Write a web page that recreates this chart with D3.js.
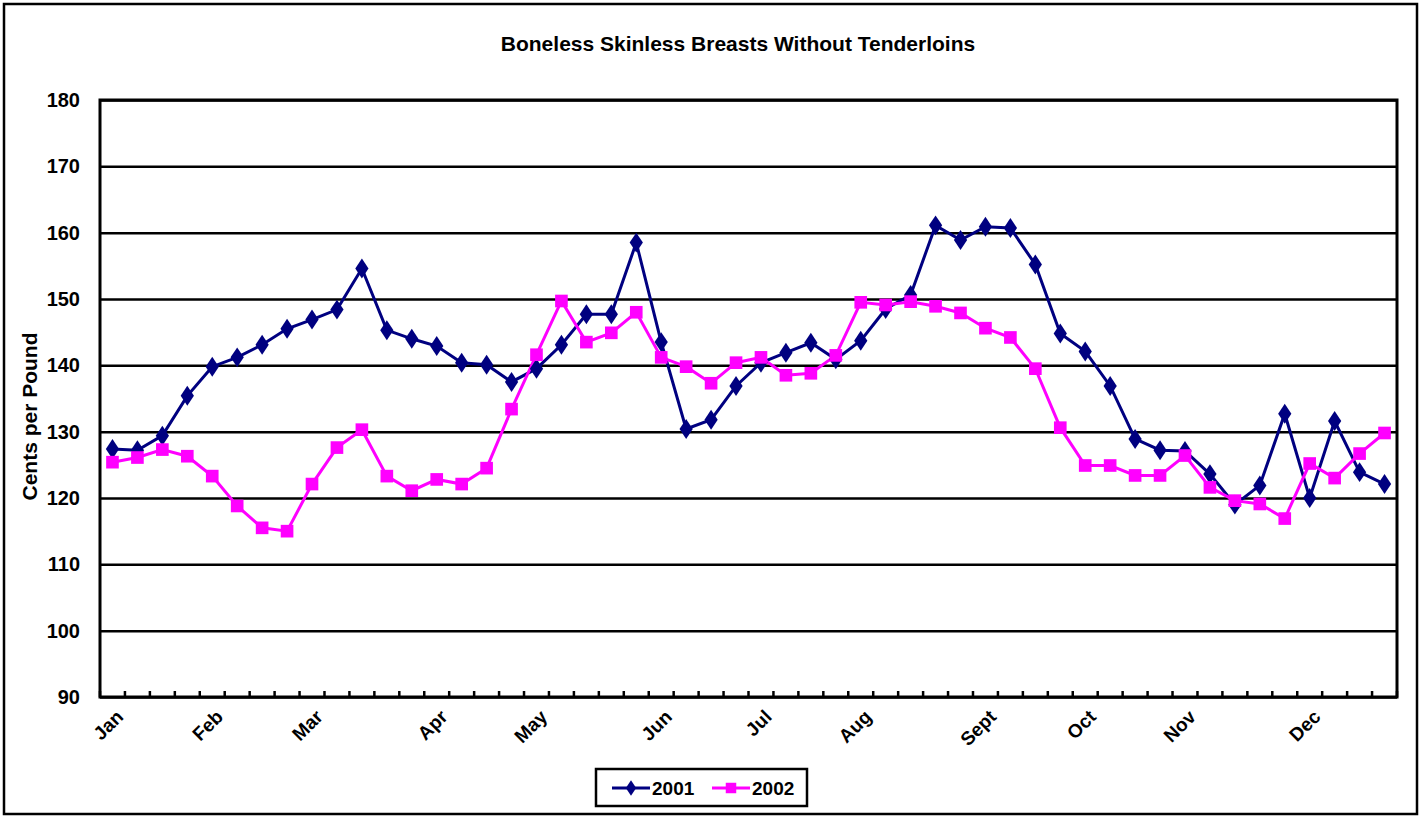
<!DOCTYPE html>
<html>
<head>
<meta charset="utf-8">
<script src="https://cdn.jsdelivr.net/npm/d3@7"></script>
<style>
  body { margin: 0; background: #fff; }
  svg { font-family: "Liberation Sans", Arial, sans-serif; font-weight: bold; }
</style>
</head>
<body>
<svg id="chart" width="1425" height="818"></svg>
<script>
// weekly prices, cents per pound (52 weeks)
const series2001 = [
  127.4, 127.2, 129.4, 135.4, 139.8, 141.2, 143.1, 145.5, 146.9, 148.4,
  154.6, 145.3, 144.0, 142.9, 140.4, 140.1, 137.5, 139.5, 143.1, 147.7,
  147.7, 158.5, 143.5, 130.4, 131.8, 136.9, 140.4, 141.9, 143.4, 140.9,
  143.7, 148.5, 150.6, 161.1, 158.9, 160.9, 160.7, 155.2, 144.8, 142.1,
  136.9, 128.9, 127.2, 127.1, 123.6, 119.0, 121.9, 132.7, 120.0, 131.6,
  123.9, 122.1
];
const series2002 = [
  125.4, 126.1, 127.3, 126.3, 123.3, 118.8, 115.5, 115.0, 122.1, 127.6,
  130.3, 123.3, 121.1, 122.8, 122.1, 124.5, 133.4, 141.6, 149.7, 143.5,
  144.9, 148.0, 141.2, 139.8, 137.3, 140.4, 141.2, 138.5, 138.8, 141.5,
  149.5, 149.1, 149.6, 148.9, 147.9, 145.6, 144.2, 139.5, 130.6, 124.9,
  124.9, 123.4, 123.4, 126.4, 121.6, 119.6, 119.1, 116.9, 125.2, 123.0,
  126.7, 129.8
];
const monthLabels = ["Jan", "Feb", "Mar", "Apr", "May", "Jun", "Jul", "Aug", "Sept", "Oct", "Nov", "Dec"];
const monthWeeks = [0, 4, 8, 13, 17, 22, 26, 30, 35, 39, 43, 48];
const yTicks = [90, 100, 110, 120, 130, 140, 150, 160, 170, 180];

const margin = { left: 100, right: 1397, top: 100, bottom: 697 };
const svg = d3.select("#chart");

// outer chart border
svg.append("rect")
  .attr("x", 4).attr("y", 4).attr("width", 1413).attr("height", 810)
  .attr("fill", "#fff").attr("stroke", "#000").attr("stroke-width", 2.5);

const weeks = d3.range(series2001.length);
const x = d3.scaleBand().domain(weeks).range([margin.left, margin.right]).padding(0);
const y = d3.scaleLinear().domain([90, 180]).range([margin.bottom, margin.top]);
const cx = (i) => x(i) + x.bandwidth() / 2;

// gridlines + y labels
const yAxis = svg.append("g")
  .attr("transform", `translate(${margin.left},0)`)
  .call(d3.axisLeft(y).tickValues(yTicks).tickSize(-(margin.right - margin.left)).tickPadding(20));
yAxis.select(".domain").remove();
yAxis.selectAll("line").attr("stroke", "#000").attr("stroke-width", 2.5);
yAxis.selectAll("text").attr("font-size", 20).attr("font-weight", "bold").attr("fill", "#000")
  .attr("font-family", "Liberation Sans, Arial, sans-serif");

// plot border
svg.append("rect")
  .attr("x", margin.left).attr("y", margin.top)
  .attr("width", margin.right - margin.left).attr("height", margin.bottom - margin.top)
  .attr("fill", "none").attr("stroke", "#000").attr("stroke-width", 3);

// x tick marks between categories, pointing inward
const tickPos = weeks.map((i) => x(i)).concat([margin.right]);
svg.append("g").selectAll("line").data(tickPos).join("line")
  .attr("x1", (d) => d).attr("x2", (d) => d)
  .attr("y1", margin.bottom).attr("y2", margin.bottom - 6)
  .attr("stroke", "#000").attr("stroke-width", 2.5);

// month labels
svg.append("g").selectAll("text").data(monthWeeks).join("text")
  .attr("transform", (d) => `translate(${cx(d) + 12},${margin.bottom + 21}) rotate(-45)`)
  .attr("text-anchor", "end")
  .attr("font-size", 19)
  .text((d, i) => monthLabels[i]);

// lines
const line = d3.line().x((d, i) => cx(i)).y((d) => y(d));
const diamond = d3.symbol().type(d3.symbolDiamond).size(115);
const square = d3.symbol().type(d3.symbolSquare).size(160);

svg.append("path").datum(series2001).attr("d", line)
  .attr("fill", "none").attr("stroke", "#000080").attr("stroke-width", 3);
svg.append("path").datum(series2002).attr("d", line)
  .attr("fill", "none").attr("stroke", "#ff00ff").attr("stroke-width", 3);

svg.append("g").selectAll("path").data(series2001).join("path")
  .attr("transform", (d, i) => `translate(${cx(i)},${y(d)}) scale(1.15,1)`)
  .attr("d", diamond).attr("fill", "#000080");
svg.append("g").selectAll("path").data(series2002).join("path")
  .attr("transform", (d, i) => `translate(${cx(i)},${y(d)})`)
  .attr("d", square).attr("fill", "#ff00ff");

// title
svg.append("text")
  .attr("x", 738).attr("y", 51)
  .attr("text-anchor", "middle").attr("font-size", 21)
  .text("Boneless Skinless Breasts Without Tenderloins");

// y axis title
svg.append("text")
  .attr("transform", `translate(37,${(margin.top + margin.bottom) / 2 + 18}) rotate(-90)`)
  .attr("text-anchor", "middle").attr("font-size", 21)
  .text("Cents per Pound");

// legend
const legend = svg.append("g").attr("transform", "translate(596,769)");
legend.append("rect").attr("width", 211).attr("height", 37)
  .attr("fill", "#fff").attr("stroke", "#000").attr("stroke-width", 2.5);
const legendItems = [
  { label: "2001", color: "#000080", sym: d3.symbol().type(d3.symbolDiamond).size(70), sx: 1.15 },
  { label: "2002", color: "#ff00ff", sym: d3.symbol().type(d3.symbolSquare).size(110), sx: 1 }
];
legendItems.forEach((it, k) => {
  const gx = 16 + k * 100;
  legend.append("line").attr("x1", gx).attr("x2", gx + 38).attr("y1", 19).attr("y2", 19)
    .attr("stroke", it.color).attr("stroke-width", 3);
  legend.append("path").attr("transform", `translate(${gx + 19},19) scale(${it.sx},1)`)
    .attr("d", it.sym).attr("fill", it.color);
  legend.append("text").attr("x", gx + 40).attr("y", 26).attr("font-size", 19).text(it.label);
});
</script>
</body>
</html>
